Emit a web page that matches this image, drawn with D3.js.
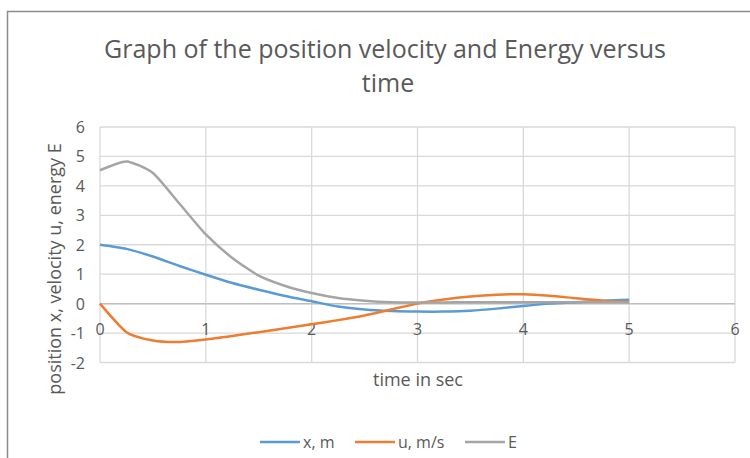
<!DOCTYPE html>
<html>
<head>
<meta charset="utf-8">
<script src="https://cdn.jsdelivr.net/npm/d3@7"></script>
<style>
	body { margin: 0; background: #fff; }
	svg { display: block; font-family: "Open Sans", sans-serif; }
	.grid line { stroke: #d9d9d9; stroke-width: 1.3; }
	.tick-label { fill: #595959; font-size: 16px; }
</style>
</head>
<body>
<svg id="chart" width="750" height="458"></svg>
<script>
	// time in sec, step 0.25
	var times = [0, 0.25, 0.5, 0.75, 1, 1.25, 1.5, 1.75, 2, 2.25, 2.5, 2.75, 3, 3.25, 3.5, 3.75, 4, 4.25, 4.5, 4.75, 5];
	var position = [2.0, 1.86, 1.6, 1.28, 0.98, 0.7, 0.47, 0.26, 0.08, -0.1, -0.2, -0.25, -0.27, -0.27, -0.24, -0.17, -0.08, 0.0, 0.05, 0.1, 0.13];
	var velocity = [0, -0.97, -1.25, -1.3, -1.22, -1.1, -0.97, -0.84, -0.7, -0.56, -0.4, -0.2, 0.0, 0.14, 0.24, 0.3, 0.32, 0.27, 0.18, 0.1, 0.06];
	var energy = [4.53, 4.83, 4.44, 3.4, 2.35, 1.55, 0.95, 0.6, 0.36, 0.19, 0.1, 0.05, 0.04, 0.04, 0.05, 0.05, 0.05, 0.05, 0.05, 0.05, 0.04];
	var seriesNames = ['x, m', 'u, m/s', 'E'];
	var seriesColors = ['#5b9bd5', '#ed7d31', '#a5a5a5'];
	var xTicks = [0, 1, 2, 3, 4, 5, 6];
	var yTicks = [-2, -1, 0, 1, 2, 3, 4, 5, 6];

	var svg = d3.select('#chart');

	var xScale = d3.scaleLinear().domain([0, 6]).range([100, 735]);
	var yScale = d3.scaleLinear().domain([-2, 6]).range([362.5, 127]);

	// chart border
	svg.append('rect')
		.attr('x', 7.5)
		.attr('y', 11.5)
		.attr('width', 760)
		.attr('height', 460)
		.attr('fill', 'none')
		.attr('stroke', '#8c8c8c')
		.attr('stroke-width', 1.5);

	// title
	var title = svg.append('text')
		.attr('text-anchor', 'middle')
		.attr('fill', '#595959')
		.attr('font-size', 25);
	title.append('tspan').attr('x', 385).attr('y', 58).text('Graph of the position velocity and Energy versus');
	title.append('tspan').attr('x', 388).attr('y', 92).text('time');

	// gridlines
	var grid = svg.append('g').attr('class', 'grid');
	grid.selectAll('line.h')
		.data(yTicks)
		.enter().append('line')
		.attr('class', 'h')
		.attr('x1', xScale(0))
		.attr('x2', xScale(6))
		.attr('y1', function (d) { return yScale(d); })
		.attr('y2', function (d) { return yScale(d); });
	grid.selectAll('line.v')
		.data(xTicks)
		.enter().append('line')
		.attr('class', 'v')
		.attr('y1', yScale(6))
		.attr('y2', yScale(-2))
		.attr('x1', function (d) { return xScale(d); })
		.attr('x2', function (d) { return xScale(d); });

	// horizontal axis crosses at 0
	svg.append('line')
		.attr('x1', xScale(0))
		.attr('x2', xScale(6))
		.attr('y1', yScale(0))
		.attr('y2', yScale(0))
		.attr('stroke', '#bfbfbf')
		.attr('stroke-width', 1.5);

	// tick labels
	svg.selectAll('text.ylab')
		.data(yTicks)
		.enter().append('text')
		.attr('class', 'tick-label ylab')
		.attr('text-anchor', 'end')
		.attr('x', 85)
		.attr('y', function (d) { return yScale(d) + 6; })
		.text(function (d) { return d; });

	svg.selectAll('text.xlab')
		.data(xTicks)
		.enter().append('text')
		.attr('class', 'tick-label xlab')
		.attr('text-anchor', 'middle')
		.attr('x', function (d) { return xScale(d); })
		.attr('y', yScale(0) + 31)
		.text(function (d) { return d; });

	// axis titles
	svg.append('text')
		.attr('text-anchor', 'middle')
		.attr('fill', '#595959')
		.attr('font-size', 18)
		.attr('x', 418)
		.attr('y', 386)
		.text('time in sec');

	svg.append('text')
		.attr('text-anchor', 'middle')
		.attr('fill', '#595959')
		.attr('font-size', 18)
		.attr('transform', 'translate(61,269) rotate(-90)')
		.text('position x, velocity u, energy E');

	// series
	var seriesData = [position, velocity, energy];
	var line = d3.line()
		.x(function (d, i) { return xScale(times[i]); })
		.y(function (d) { return yScale(d); })
		.curve(d3.curveCardinal.tension(0.4));

	svg.selectAll('path.series')
		.data(seriesData)
		.enter().append('path')
		.attr('class', 'series')
		.attr('fill', 'none')
		.attr('stroke', function (d, i) { return seriesColors[i]; })
		.attr('stroke-width', 2.5)
		.attr('stroke-linejoin', 'round')
		.attr('d', line);

	// legend
	var legendX = [260, 355, 465];
	var legend = svg.selectAll('g.legend')
		.data(seriesNames)
		.enter().append('g')
		.attr('class', 'legend')
		.attr('transform', function (d, i) { return 'translate(' + legendX[i] + ',442)'; });
	legend.append('line')
		.attr('x1', 0)
		.attr('x2', 40)
		.attr('stroke', function (d, i) { return seriesColors[i]; })
		.attr('stroke-width', 2.5);
	legend.append('text')
		.attr('x', 43)
		.attr('y', 6)
		.attr('fill', '#595959')
		.attr('font-size', 16)
		.text(function (d) { return d; });
</script>
</body>
</html>
